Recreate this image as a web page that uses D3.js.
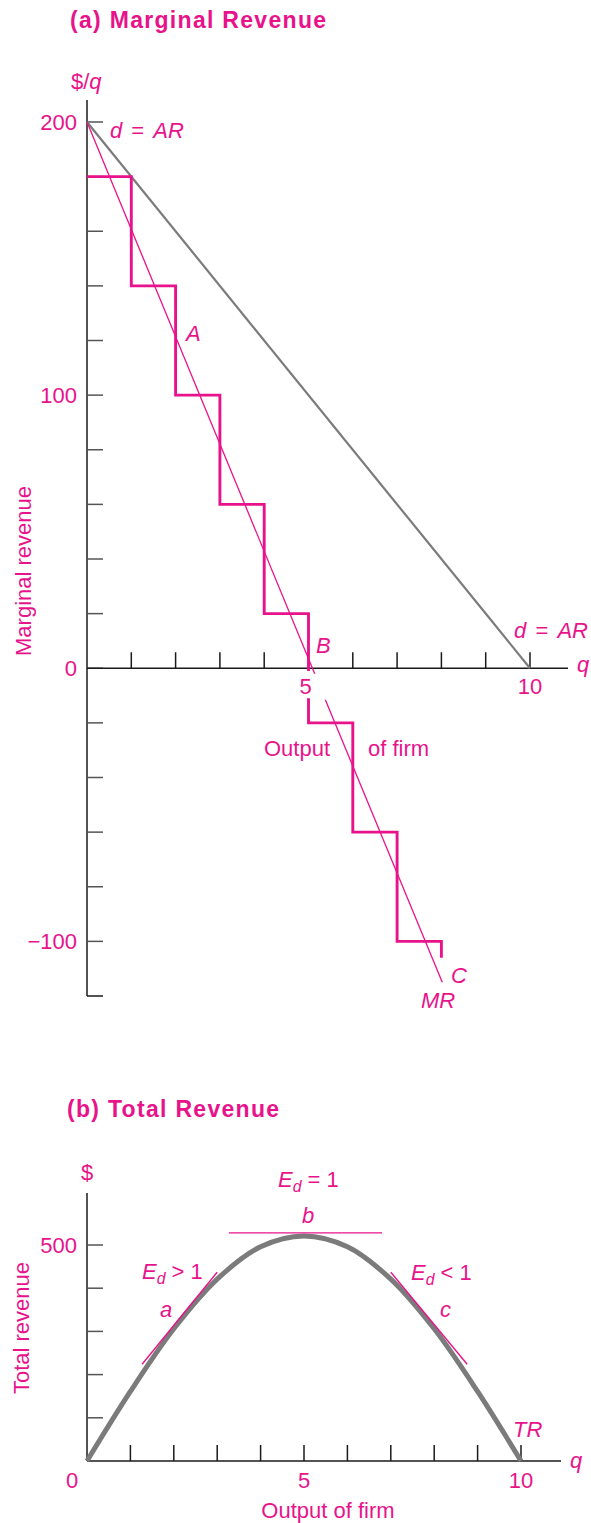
<!DOCTYPE html>
<html>
<head>
<meta charset="utf-8">
<script src="https://cdn.jsdelivr.net/npm/d3@7"></script>
<style>
  html, body { margin: 0; padding: 0; background: #fff; }
  svg { display: block; font-family: "Liberation Sans", Arial, Helvetica, sans-serif; }
</style>
</head>
<body>
<script>
// ---------- data ----------
const qTicks = [1, 2, 3, 4, 5, 6, 7, 8, 9, 10];
const qLabels = [5, 10];

// Panel (a): marginal revenue
const mrYTicks = [-120, -100, -80, -60, -40, -20, 0, 20, 40, 60, 80, 100, 120, 140, 160, 180, 200];
const mrYLabels = [200, 100, 0, -100];
const demand = [[0, 200], [10, 0]];                 // d = AR
const mrStepsUpper = [[0, 180], [1, 180], [1, 140], [2, 140], [2, 100], [3, 100], [3, 60], [4, 60], [4, 20], [5, 20], [5, -1]];
const mrStepsLower = [[5, -11], [5, -20], [6, -20], [6, -60], [7, -60], [7, -100], [8, -100], [8, -106]];
const mrLineUpper = [[0, 200], [5.14, -2]];
const mrLineLower = [[5.38, -11.5], [8.02, -115]];

// Panel (b): total revenue
const trYTicks = [100, 200, 300, 400, 500];
const trYLabels = [500];
const trQ = [0, 1, 2, 3, 4, 5, 6, 7, 8, 9, 10];
const trValues = [0, 161, 306, 421, 496, 521, 496, 421, 306, 161, 0];
const tangentA = [[1.27, 224], [3.0, 437]];
const tangentB = [[3.27, 528], [6.8, 528]];
const tangentC = [[7.0, 437], [8.76, 224]];

// ---------- style ----------
const MAG = "#e8138b";
const GRAY = "#7b7b7b";
const AXIS = "#1a1a1a";
const TICK = "#555";
const FS = 22;

const svg = d3.select("body").append("svg").attr("width", 591).attr("height", 1523);

function txt(x, y, parts, opts = {}) {
  const t = svg.append("text").attr("x", x).attr("y", y)
    .attr("fill", MAG).attr("font-size", opts.size || FS)
    .attr("text-anchor", opts.anchor || "start");
  if (opts.weight) t.attr("font-weight", opts.weight);
  if (opts.ls) t.attr("letter-spacing", opts.ls);
  if (opts.transform) t.attr("transform", opts.transform);
  (Array.isArray(parts) ? parts : [[parts]]).forEach(p => {
    const s = t.append("tspan").text(p[0]);
    if (p[1] === "i") s.attr("font-style", "italic");
    if (p[1] === "sub") s.attr("font-style", "italic").attr("font-size", FS * 0.72).attr("dy", 5);
    if (p[2] != null) s.attr("dy", p[2]);
    if (p[3] != null) s.attr("dx", p[3]);
  });
  return t;
}
const dAR = [["d", "i"], [" = ", null, null, 3], ["AR", "i", null, 3]];

// ================= Panel (a) =================
const xA = d3.scaleLinear().domain([0, 10]).range([87, 530]);
const yA = d3.scaleLinear().domain([-120, 200]).range([996, 122]);
const lineA = d3.line().x(d => xA(d[0])).y(d => yA(d[1]));

txt(70, 28, [["(a) Marginal Revenue"]], { weight: "bold", size: 23, ls: 1.3 });

// y axis line
svg.append("line").attr("x1", xA(0)).attr("x2", xA(0)).attr("y1", 100).attr("y2", yA(-120))
  .attr("stroke", AXIS).attr("stroke-width", 1.5);
// y ticks (pointing right)
svg.append("g").selectAll("line").data(mrYTicks).join("line")
  .attr("x1", xA(0)).attr("x2", xA(0) + 16)
  .attr("y1", d => yA(d)).attr("y2", d => yA(d))
  .attr("stroke", d => d === -120 ? AXIS : TICK).attr("stroke-width", 1.5);
// y labels
mrYLabels.forEach(v => txt(77, yA(v) + 8, [[v < 0 ? "\u2212" + Math.abs(v) : String(v)]], { anchor: "end" }));

// x axis
svg.append("line").attr("x1", xA(0)).attr("x2", 568).attr("y1", yA(0)).attr("y2", yA(0))
  .attr("stroke", AXIS).attr("stroke-width", 1.5);
svg.append("g").selectAll("line").data(qTicks).join("line")
  .attr("x1", d => xA(d)).attr("x2", d => xA(d))
  .attr("y1", yA(0)).attr("y2", yA(0) - 16)
  .attr("stroke", AXIS).attr("stroke-width", 1.5);
qLabels.forEach(v => txt(xA(v) - (v === 5 ? 3 : 0), 694, [[String(v)]], { anchor: "middle" }));
txt(577, 672, [["q", "i"]]);

// demand line
svg.append("path").attr("d", lineA(demand)).attr("fill", "none")
  .attr("stroke", GRAY).attr("stroke-width", 2.2);

// MR thin line
[mrLineUpper, mrLineLower].forEach(seg =>
  svg.append("path").attr("d", lineA(seg)).attr("fill", "none")
    .attr("stroke", MAG).attr("stroke-width", 1.3));
// MR steps
[mrStepsUpper, mrStepsLower].forEach(seg =>
  svg.append("path").attr("d", lineA(seg)).attr("fill", "none")
    .attr("stroke", MAG).attr("stroke-width", 2.9).attr("stroke-linejoin", "miter"));

// labels
txt(71, 89, [["$/"], ["q", "i"]]);
txt(110, 138, dAR);
txt(186, 341, [["A", "i"]]);
txt(316, 653, [["B", "i"]]);
txt(588, 638, dAR, { anchor: "end" });
txt(264, 756, [["Output"]]);
txt(368, 756, [["of firm"]]);
txt(451, 983, [["C", "i"]]);
txt(421, 1008, [["MR", "i"]]);
txt(0, 0, [["Marginal revenue"]], { anchor: "middle", transform: "translate(31,571) rotate(-90)" });

// ================= Panel (b) =================
const xB = d3.scaleLinear().domain([0, 10]).range([87, 521]);
const yB = d3.scaleLinear().domain([0, 500]).range([1461, 1245]);
const lineB = d3.line().x(d => xB(d[0])).y(d => yB(d[1]));

txt(67, 1117, [["(b) Total Revenue"]], { weight: "bold", size: 23, ls: 1.3 });

svg.append("line").attr("x1", xB(0)).attr("x2", xB(0)).attr("y1", 1193).attr("y2", yB(0))
  .attr("stroke", AXIS).attr("stroke-width", 1.5);
svg.append("g").selectAll("line").data(trYTicks).join("line")
  .attr("x1", xB(0)).attr("x2", xB(0) + 16)
  .attr("y1", d => yB(d)).attr("y2", d => yB(d))
  .attr("stroke", TICK).attr("stroke-width", 1.5);
trYLabels.forEach(v => txt(77, yB(v) + 8, [[String(v)]], { anchor: "end" }));

svg.append("line").attr("x1", xB(0)).attr("x2", 561).attr("y1", yB(0)).attr("y2", yB(0))
  .attr("stroke", AXIS).attr("stroke-width", 1.5);
svg.append("g").selectAll("line").data(qTicks).join("line")
  .attr("x1", d => xB(d)).attr("x2", d => xB(d))
  .attr("y1", yB(0)).attr("y2", yB(0) - 16)
  .attr("stroke", AXIS).attr("stroke-width", 1.5);
txt(72, 1488, [["0"]], { anchor: "middle" });
qLabels.forEach(v => txt(xB(v), 1488, [[String(v)]], { anchor: "middle" }));
txt(570, 1468, [["q", "i"]]);

// TR curve
const trData = trQ.map((q, i) => [q, trValues[i]]);
svg.append("path")
  .attr("d", d3.line().x(d => xB(d[0])).y(d => yB(d[1])).curve(d3.curveCatmullRom.alpha(0.5))(trData))
  .attr("fill", "none").attr("stroke", GRAY).attr("stroke-width", 5);

// tangents
[tangentA, tangentB, tangentC].forEach(seg =>
  svg.append("path").attr("d", lineB(seg)).attr("fill", "none")
    .attr("stroke", MAG).attr("stroke-width", 1.4));

// labels
txt(87, 1180, [["$"]], { anchor: "middle" });
txt(278, 1187, [["E", "i"], ["d", "sub"], [" = 1", null, -5]]);
txt(302, 1223, [["b", "i"]]);
txt(142, 1279, [["E", "i"], ["d", "sub"], [" > 1", null, -5]]);
txt(160, 1317, [["a", "i"]]);
txt(411, 1280, [["E", "i"], ["d", "sub"], [" < 1", null, -5]]);
txt(440, 1317, [["c", "i"]]);
txt(513, 1437, [["TR", "i"]]);
txt(328, 1518, [["Output of firm"]], { anchor: "middle" });
txt(0, 0, [["Total revenue"]], { anchor: "middle", transform: "translate(29,1328) rotate(-90)" });
</script>
</body>
</html>
